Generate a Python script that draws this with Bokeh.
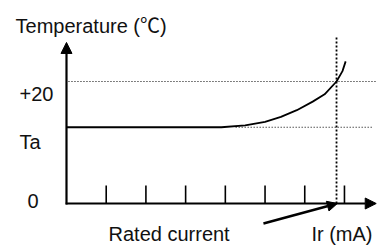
from bokeh.plotting import figure
from bokeh.models import Arrow, NormalHead, Range1d
from bokeh.core.properties import value
from bokeh.embed import file_html
from bokeh.resources import INLINE

# ---- data ----
x_ticks = [1, 2, 3, 4, 5, 6, 7]
y_label_values = [0, 12.5, 20]
y_labels = ["0", "Ta", "+20"]
ta_value = 12.5
limit_value = 20
rated_current = 6.8
curve_x = [0, 3.9, 4.5, 5.0, 5.4, 5.8, 6.2, 6.5, 6.8, 6.95, 7.03]
curve_y = [12.5, 12.5, 12.8, 13.4, 14.2, 15.3, 16.7, 17.9, 20.0, 21.7, 23.3]
y_title = "Temperature (℃)"
x_title = "Rated current"
x_unit = "Ir (mA)"

# ---- layout (positions in data units) ----
X0, X1 = -1.662, 7.832
Y0, Y1 = -6.885, 33.28
FONT = value("Liberation Sans, Noto Sans CJK SC")

p = figure(width=377, height=245, x_range=Range1d(X0, X1), y_range=Range1d(Y0, Y1),
           output_backend="svg", toolbar_location=None,
           x_axis_location=None, y_axis_location=None, min_border=0,
           outline_line_color=None, background_fill_color="white",
           border_fill_color="white")
p.grid.visible = False

# dotted reference lines
p.line([0.05, 7.85], [limit_value, limit_value], line_color="black",
       line_width=1.2, line_dash="1 2")
p.line([4.26, 7.73], [ta_value, ta_value], line_color="black",
       line_width=1.2, line_dash="1 2")
p.line([rated_current, rated_current], [0, 27.2], line_color="black",
       line_width=1.8, line_dash="2 2")

# ticks on x axis
p.segment(x0=x_ticks, y0=[0] * len(x_ticks), x1=x_ticks, y1=[2.95] * len(x_ticks),
          line_color="black", line_width=1.6)

# temperature curve
p.line(curve_x, curve_y, line_color="black", line_width=1.8)

# axes with arrow heads
p.add_layout(Arrow(x_start=0, y_start=-0.15, x_end=0, y_end=26.4,
                   line_width=2.2, line_color="black",
                   end=NormalHead(size=11, fill_color="black", line_color="black")))
p.add_layout(Arrow(x_start=-0.02, y_start=0, x_end=7.8, y_end=0,
                   line_width=2.2, line_color="black",
                   end=NormalHead(size=11, fill_color="black", line_color="black")))

# pointer arrow to rated current
p.add_layout(Arrow(x_start=4.96, y_start=-3.28, x_end=6.82, y_end=0.0,
                   line_width=2.5, line_color="black",
                   end=NormalHead(size=10, fill_color="black", line_color="black")))

# texts
p.text(x=[-1.284], y=[29.02], text=[y_title], text_font=FONT,
       text_font_size=value("20px"), text_color="#111111",
       text_align="left", text_baseline="alphabetic")

y_label_x = [-0.982, -1.184, -1.184]
y_label_y = [0.49, 10.16, 18.03]
p.text(x=y_label_x, y=y_label_y, text=y_labels, text_font=FONT,
       text_font_size=value("20px"), text_color="#111111",
       text_align="left", text_baseline="alphabetic")

p.text(x=[1.058], y=[-4.92], text=[x_title], text_font=FONT,
       text_font_size=value("20px"), text_color="#111111",
       text_align="left", text_baseline="alphabetic")
p.text(x=[7.706], y=[-4.92], text=[x_unit], text_font=FONT,
       text_font_size=value("20px"), text_color="#111111",
       text_align="right", text_baseline="alphabetic")

open("out.html", "w").write(file_html(p, INLINE))
